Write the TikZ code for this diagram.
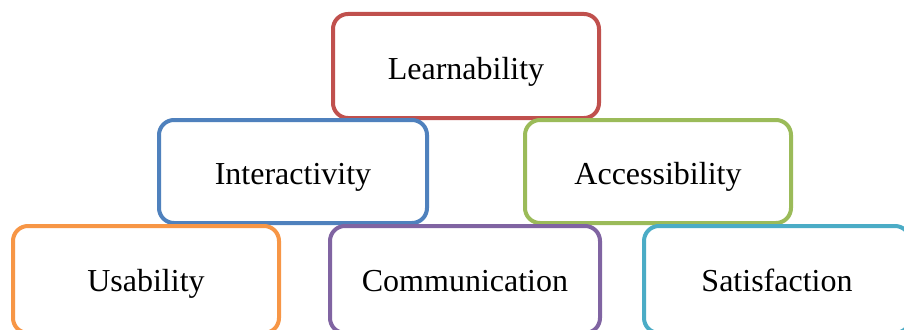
\documentclass[tikz,border=0pt]{standalone}
\usepackage{fontspec}
\setmainfont{Liberation Serif}
\definecolor{cred}{HTML}{C0504D}
\definecolor{cblue}{HTML}{4F81BD}
\definecolor{cgreen}{HTML}{9BBB59}
\definecolor{corange}{HTML}{F79646}
\definecolor{cpurple}{HTML}{8064A2}
\definecolor{ccyan}{HTML}{4BACC6}
\begin{document}
\begin{tikzpicture}[x=1pt,y=-1pt,
  box/.style={draw, line width=4pt, rounded corners=15pt, fill=white,
    inner sep=0pt, outer sep=0pt, minimum width=266pt, minimum height=104pt,
    text height=34pt, text depth=8pt, font=\fontsize{32}{38}\selectfont},
  lowbox/.style={box, minimum height=107pt, text height=31pt, text depth=8pt}]
\useasboundingbox (0,0) rectangle (904,329);
\clip (0,0) rectangle (904,329);
\node[box, draw=cred] (learn) at (466,66) {Learnability};
\node[box, draw=cblue, minimum width=268pt, minimum height=103pt] (inter) at (293,171.5) {Interactivity};
\node[box, draw=cgreen, minimum width=266pt, minimum height=103pt] (access) at (658,171.5) {Accessibility};
\node[lowbox, draw=corange] (usab) at (146,279.5) {Usability};
\node[lowbox, draw=cpurple, minimum width=270pt] (comm) at (465,279.5) {Communication};
\node[lowbox, draw=ccyan] (satis) at (777,279.5) {Satisfaction};
\end{tikzpicture}
\end{document}
